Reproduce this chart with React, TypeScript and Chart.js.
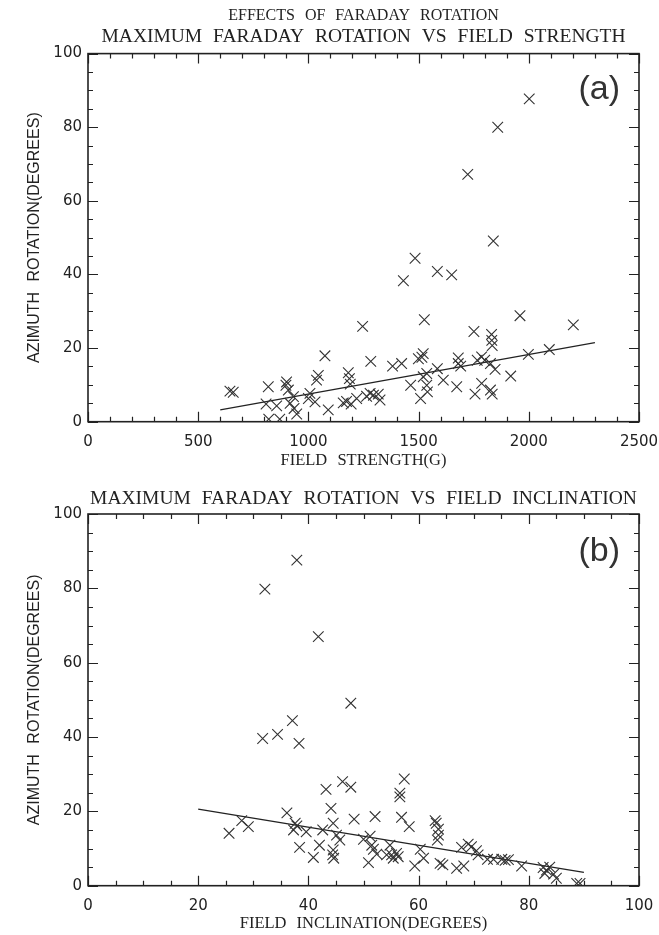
import React, { useEffect, useRef } from 'react';
import { Chart, registerables } from 'chart.js';

Chart.register(...registerables);

// ---------- text ----------
const figureTitle = 'EFFECTS OF FARADAY ROTATION';
const titleA = 'MAXIMUM FARADAY ROTATION VS FIELD STRENGTH';
const titleB = 'MAXIMUM FARADAY ROTATION VS FIELD INCLINATION';
const xTitleA = 'FIELD STRENGTH(G)';
const xTitleB = 'FIELD INCLINATION(DEGREES)';
const yTitle = 'AZIMUTH ROTATION(DEGREES)';
const panelLabelA = '(a)';
const panelLabelB = '(b)';

// ---------- ticks ----------
const xTicksA = [0, 500, 1000, 1500, 2000, 2500];
const xTicksB = [0, 20, 40, 60, 80, 100];
const yTicks = [0, 20, 40, 60, 80, 100];

// ---------- panel (a): field strength vs azimuth rotation ----------
const fieldStrength = [
  2002, 1859, 1723, 1839, 1484, 1431, 1585, 1650, 1526, 1246,
  1960, 2202, 1751, 1831, 1832, 1834, 1075, 1998, 2093, 1283,
  1382, 1423, 1499, 1521, 1515, 1680, 1680, 1691, 1766, 1786,
  1800, 1826, 1847, 1585, 1537, 1521, 1612, 1537, 1464, 1673,
  1786, 1918, 1540, 1756, 1826, 1834, 1509, 1181, 1186, 1190,
  1045, 1037, 1007, 1000, 1030, 1090, 901, 898, 909, 818,
  932, 917, 935, 947, 808, 856, 820, 870, 644, 659,
  1158, 1194, 1219, 1264, 1295, 1317, 1325, 1280, 1173,
];
const rotationA = [
  87.7, 80.0, 67.2, 49.1, 44.4, 38.3, 40.8, 39.9, 27.7, 25.9,
  28.8, 26.3, 24.5, 23.7, 22.1, 20.7, 17.9, 18.3, 19.6, 16.4,
  15.1, 15.8, 17.1, 18.5, 17.5, 17.3, 15.8, 15.1, 16.7, 17.6,
  16.7, 15.8, 14.2, 14.4, 13.1, 12.2, 11.3, 9.9, 9.9, 9.5,
  10.4, 12.4, 8.1, 7.5, 8.6, 7.5, 6.3, 13.3, 11.7, 10.2,
  12.6, 11.3, 7.7, 6.3, 5.4, 3.2, 10.8, 9.9, 8.6, 9.5,
  6.8, 5.0, 3.6, 2.1, 4.8, 4.3, 0.7, 0.7, 8.3, 8.0,
  5.1, 4.8, 6.3, 6.9, 7.2, 7.5, 5.9, 7.7, 5.5,
];
const fitAX = [600, 2300];
const fitAY = [3.2, 21.5];

// ---------- panel (b): field inclination vs azimuth rotation ----------
const inclination = [
  37.9, 32.1, 41.8, 47.7, 37.1, 34.4, 31.7, 38.3, 57.4, 56.6,
  56.6, 46.2, 47.7, 43.2, 44.1, 36.1, 52.1, 48.3, 56.9, 58.3,
  63.0, 63.2, 63.6, 63.6, 63.4, 27.9, 29.1, 25.6, 37.6, 37.9,
  37.3, 39.6, 38.4, 40.9, 42.0, 42.6, 44.5, 44.5, 44.4, 44.6,
  45.7, 45.1, 50.0, 51.2, 51.5, 51.8, 52.4, 50.9, 54.8, 55.1,
  55.4, 56.0, 56.3, 54.2, 60.3, 60.9, 59.3, 63.9, 64.4, 66.9,
  68.2, 67.8, 69.0, 69.6, 70.5, 70.8, 72.5, 73.6, 75.1, 75.7,
  76.3, 78.7, 82.6, 83.2, 83.8, 82.9, 84.5, 85.0, 88.7, 89.3,
];
const rotationB = [
  87.6, 79.8, 67.0, 49.1, 44.4, 40.7, 39.6, 38.3, 28.7, 24.9,
  23.9, 28.0, 26.5, 25.9, 20.8, 19.6, 18.6, 17.9, 18.4, 15.9,
  17.5, 16.8, 15.2, 13.6, 12.3, 17.5, 15.9, 14.1, 16.8, 16.1,
  15.0, 14.5, 10.3, 7.6, 10.9, 15.0, 16.8, 9.6, 8.3, 7.4,
  12.3, 13.6, 12.5, 13.3, 10.9, 9.8, 8.5, 6.2, 10.9, 8.3,
  7.4, 8.7, 7.8, 8.3, 9.8, 7.4, 5.3, 6.0, 5.6, 4.7,
  5.3, 10.3, 11.2, 10.5, 9.4, 8.3, 7.1, 7.1, 7.1, 6.8,
  7.0, 5.3, 4.9, 4.2, 5.0, 3.3, 3.1, 2.0, 0.6, 0.6,
];
const fitBX = [20, 90];
const fitBY = [20.6, 3.6];

// ---------- styling ----------
const INK = '#222222';
const MARK = '#333333';
const SERIF = '"Liberation Serif", "DejaVu Serif", serif';
const SANS = '"Liberation Sans", Arial, sans-serif';
const TICKFONT = '"DejaVu Sans", sans-serif';

const framePlugin = {
  id: 'idlFrame',
  beforeDraw(chart: any) {
    (chart.ctx as any).wordSpacing = '6px';
  },
  afterDatasetsDraw(chart: any, _args: any, opts: any) {
    const { ctx, chartArea } = chart;
    const { left, right, top, bottom } = chartArea;
    const xs = chart.scales.x;
    const ys = chart.scales.y;
    ctx.save();
    ctx.strokeStyle = INK;
    ctx.lineWidth = 1.2;
    ctx.beginPath();
    const isMajor = (v: number, step: number) => Math.abs(v / step - Math.round(v / step)) < 1e-6;
    for (let i = 0; xs.min + i * opts.xMinor <= xs.max + 1e-9; i++) {
      const v = xs.min + i * opts.xMinor;
      const len = isMajor(v, opts.xMajor) ? 10 : 5;
      const p = Math.round(xs.getPixelForValue(v)) + 0.5;
      ctx.moveTo(p, bottom); ctx.lineTo(p, bottom - len);
      ctx.moveTo(p, top); ctx.lineTo(p, top + len);
    }
    for (let i = 0; ys.min + i * opts.yMinor <= ys.max + 1e-9; i++) {
      const v = ys.min + i * opts.yMinor;
      const len = isMajor(v, opts.yMajor) ? 10 : 5;
      const p = Math.round(ys.getPixelForValue(v)) + 0.5;
      ctx.moveTo(left, p); ctx.lineTo(left + len, p);
      ctx.moveTo(right, p); ctx.lineTo(right - len, p);
    }
    ctx.stroke();
    ctx.lineWidth = 1.6;
    ctx.strokeRect(left, top, right - left, bottom - top);
    ctx.fillStyle = '#333333';
    ctx.font = '300 34px ' + SANS;
    ctx.textAlign = 'right';
    ctx.textBaseline = 'middle';
    ctx.fillText(opts.label, right - 19, top + opts.labelDy);
    ctx.restore();
  },
};

function buildConfig(p: any): any {
  const points = p.xs.map((x: number, i: number) => ({ x, y: p.ys[i] }));
  const fit = p.fitX.map((x: number, i: number) => ({ x, y: p.fitY[i] }));
  return {
    type: 'scatter',
    data: {
      datasets: [
        {
          type: 'scatter',
          data: points,
          pointStyle: 'crossRot',
          pointRadius: 7.5,
          pointHoverRadius: 7.5,
          borderColor: MARK,
          backgroundColor: MARK,
          borderWidth: 1.1,
          pointBorderWidth: 1.1,
          showLine: false,
        },
        {
          type: 'line',
          data: fit,
          borderColor: INK,
          borderWidth: 1.2,
          pointRadius: 0,
          fill: false,
          tension: 0,
        },
      ],
    },
    options: {
      responsive: false,
      animation: false,
      events: [],
      layout: { padding: { left: 0, right: 20, top: 0, bottom: 0 } },
      plugins: {
        legend: { display: false },
        tooltip: { enabled: false },
        title: p.title,
        subtitle: p.subtitle,
        idlFrame: {
          xMinor: p.xMinor, xMajor: p.xMajor, yMinor: 5, yMajor: 20,
          label: p.label, labelDy: p.labelDy,
        },
      },
      scales: {
        x: {
          type: 'linear',
          position: 'bottom',
          min: p.xTicks[0],
          max: p.xTicks[p.xTicks.length - 1],
          grid: { display: false, drawTicks: false },
          border: { display: false },
          afterBuildTicks: (s: any) => { s.ticks = p.xTicks.map((v: number) => ({ value: v })); },
          afterFit: (s: any) => {
            s.height = p.xAxisHeight;
            s.paddingLeft = 0;
            s.paddingRight = 0;
          },
          ticks: {
            autoSkip: false,
            maxRotation: 0,
            padding: 11,
            color: INK,
            font: { family: TICKFONT, size: 15 },
            callback: (v: any) => String(v),
          },
          title: {
            display: true,
            text: p.xTitle,
            color: INK,
            font: { family: SERIF, size: 16.5 },
            padding: { top: 0, bottom: p.xTitlePadBottom },
          },
        },
        y: {
          type: 'linear',
          position: 'left',
          min: yTicks[0],
          max: yTicks[yTicks.length - 1],
          grid: { display: false, drawTicks: false },
          border: { display: false },
          afterBuildTicks: (s: any) => { s.ticks = yTicks.map((v: number) => ({ value: v })); },
          afterFit: (s: any) => {
            s.width = 88;
            s.paddingTop = 0;
            s.paddingBottom = 0;
          },
          ticks: {
            autoSkip: false,
            padding: 6,
            color: INK,
            font: { family: TICKFONT, size: 15 },
            callback: (v: any) => String(v),
          },
          title: {
            display: true,
            text: yTitle,
            color: INK,
            font: { family: SANS, size: 16 },
            padding: { top: 25, bottom: 0 },
          },
        },
      },
    },
    plugins: [framePlugin],
  };
}

const configA = () => buildConfig({
  xs: fieldStrength, ys: rotationA, fitX: fitAX, fitY: fitAY,
  xTicks: xTicksA, xMinor: 100, xMajor: 500,
  xTitle: xTitleA, label: panelLabelA, labelDy: 36,
  xAxisHeight: 53.3, xTitlePadBottom: 4.8,
  title: {
    display: true, text: figureTitle, color: INK, fullSize: false,
    font: { family: SERIF, size: 16, weight: 'normal' },
    padding: { top: 6, bottom: 0 },
  },
  subtitle: {
    display: true, text: titleA, color: INK, fullSize: false,
    font: { family: SERIF, size: 19.5, weight: 'normal' },
    padding: { top: 0, bottom: 5 },
  },
});

const configB = () => buildConfig({
  xs: inclination, ys: rotationB, fitX: fitBX, fitY: fitBY,
  xTicks: xTicksB, xMinor: 5, xMajor: 20,
  xTitle: xTitleB, label: panelLabelB, labelDy: 38,
  xAxisHeight: 49.3, xTitlePadBottom: 1.8,
  title: {
    display: true, text: titleB, color: INK, fullSize: false,
    font: { family: SERIF, size: 19.5, weight: 'normal' },
    padding: { top: 12, bottom: 3.6 },
  },
  subtitle: { display: false },
});

function Panel({ width, height, top, make }: any) {
  const ref = useRef<HTMLCanvasElement>(null);
  useEffect(() => {
    const chart = new Chart(ref.current as HTMLCanvasElement, make());
    return () => chart.destroy();
  }, []);
  return (
    <canvas
      ref={ref}
      width={width}
      height={height}
      style={{ position: 'absolute', left: 0, top, width, height, display: 'block' }}
    />
  );
}

export default function App() {
  return (
    <div style={{ position: 'absolute', left: 0, top: 0, width: 659, height: 935, background: '#ffffff' }}>
      <Panel width={659} height={475} top={0} make={configA} />
      <Panel width={659} height={460} top={475} make={configB} />
    </div>
  );
}
